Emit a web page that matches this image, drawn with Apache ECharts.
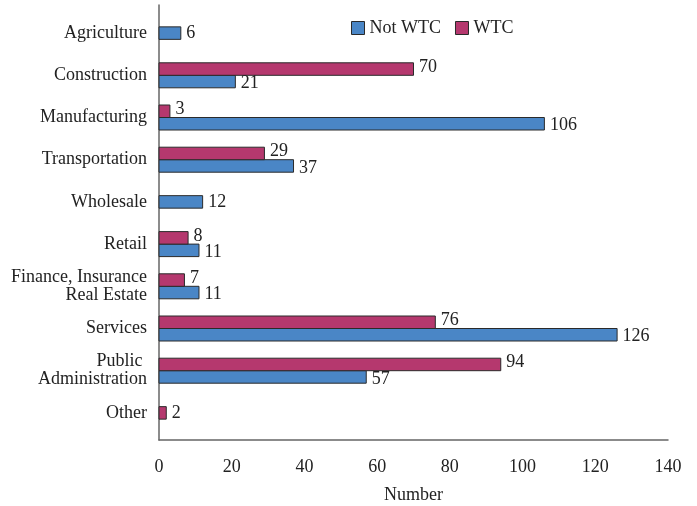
<!DOCTYPE html>
<html>
<head>
<meta charset="utf-8">
<script src="https://cdn.jsdelivr.net/npm/echarts@6/dist/echarts.min.js"></script>
<style>html,body{margin:0;padding:0;background:#fff;}#c{width:697px;height:506px;}</style>
</head>
<body>
<div id="c"></div>
<script>
const categories = ['Agriculture', 'Construction', 'Manufacturing', 'Transportation', 'Wholesale', 'Retail', 'Finance, Insurance\nReal Estate', 'Services', 'Public \nAdministration', 'Other'];
const notWTC = [6, 21, 106, 37, 12, 11, 11, 126, 57, null];
const wtc = [null, 70, 3, 29, null, 8, 7, 76, 94, 2];
const xTicks = [0, 20, 40, 60, 80, 100, 120, 140];

const FONT = '"Liberation Serif", "Times New Roman", serif';
const BLUE = '#4a86c6';
const MAG = '#b5386e';
const BAR_H = 12.5;
const FS = 18;

function toData(arr) {
  const out = [];
  arr.forEach((v, i) => { if (v !== null) out.push([v, i]); });
  return out;
}

function makeRender(isWTC) {
  return function (params, api) {
    const val = api.value(0);
    const idx = api.value(1);
    const start = api.coord([0, idx]);
    const end = api.coord([val, idx]);
    const both = notWTC[idx] !== null && wtc[idx] !== null;
    let y0;
    if (!both) y0 = start[1] - BAR_H / 2;
    else y0 = isWTC ? start[1] - BAR_H : start[1];
    const color = isWTC ? MAG : BLUE;
    return {
      type: 'rect',
      shape: { x: start[0], y: y0, width: end[0] - start[0], height: BAR_H },
      style: { fill: color, stroke: '#2a2a2a', lineWidth: 1 },
      textContent: {
        style: { text: String(val), fill: '#222', font: FS + 'px ' + FONT }
      },
      textConfig: { position: 'right', distance: 5, offset: [0, both ? (isWTC ? -2 : 2) : 0] }
    };
  };
}

const chart = echarts.init(document.getElementById('c'));
chart.setOption({
  animation: false,
  backgroundColor: '#fff',
  textStyle: { fontFamily: FONT },
  legend: {
    left: 346, top: 14,
    itemWidth: 13, itemHeight: 13, itemGap: 14,
    textStyle: { fontFamily: FONT, fontSize: FS, color: '#222' },
    data: [
      { name: 'Not WTC', icon: 'rect', itemStyle: { color: BLUE, borderColor: '#2a2a2a', borderWidth: 1 } },
      { name: 'WTC', icon: 'rect', itemStyle: { color: MAG, borderColor: '#2a2a2a', borderWidth: 1 } }
    ]
  },
  grid: [
    { left: 159, right: 29, top: 12, bottom: 72, containLabel: false, outerBoundsMode: 'none' },
    { left: 159, right: 29, top: 5, bottom: 66, containLabel: false, outerBoundsMode: 'none' }
  ],
  xAxis: [
    {
      gridIndex: 0, type: 'value', min: 0, max: 140, interval: 20,
      axisLine: { show: false }, axisTick: { show: false },
      splitLine: { show: false }, axisLabel: { show: false }
    },
    {
      gridIndex: 1, type: 'value', min: 0, max: 140, interval: 20,
      name: 'Number', nameLocation: 'middle', nameGap: 46,
      nameTextStyle: { fontFamily: FONT, fontSize: FS, color: '#222' },
      axisLine: { show: true, lineStyle: { color: '#666', width: 1.5 } },
      axisTick: { show: false },
      splitLine: { show: false },
      axisLabel: { margin: 18, fontFamily: FONT, fontSize: FS, color: '#222',
        formatter: v => xTicks.indexOf(v) >= 0 ? String(v) : '' }
    }
  ],
  yAxis: [
    {
      gridIndex: 0, type: 'category', data: categories, inverse: true,
      axisLine: { show: false },
      axisTick: { show: false },
      splitLine: { show: false },
      axisLabel: { margin: 12, fontFamily: FONT, fontSize: FS, color: '#222', lineHeight: 18, align: 'right' }
    },
    {
      gridIndex: 1, type: 'value', min: 0, max: 1,
      axisLine: { show: true, lineStyle: { color: '#666', width: 1.5 } },
      axisTick: { show: false }, splitLine: { show: false }, axisLabel: { show: false }
    }
  ],
  series: [
    {
      name: 'Not WTC', type: 'custom', xAxisIndex: 0, yAxisIndex: 0,
      itemStyle: { color: BLUE, borderColor: '#2a2a2a' },
      encode: { x: 0, y: 1 },
      renderItem: makeRender(false),
      data: toData(notWTC)
    },
    {
      name: 'WTC', type: 'custom', xAxisIndex: 0, yAxisIndex: 0,
      itemStyle: { color: MAG, borderColor: '#2a2a2a' },
      encode: { x: 0, y: 1 },
      renderItem: makeRender(true),
      data: toData(wtc)
    }
  ]
});
</script>
</body>
</html>
